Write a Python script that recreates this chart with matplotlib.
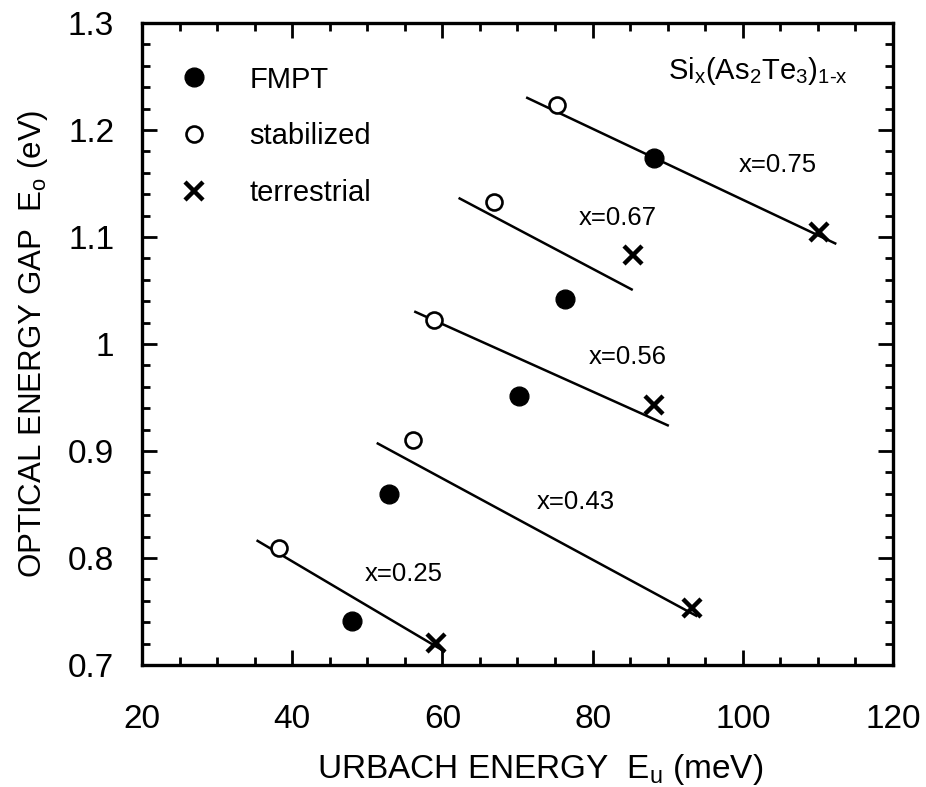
import matplotlib
matplotlib.use('Agg')
import matplotlib.pyplot as plt

plt.rcParams['font.family'] = ['Liberation Sans', 'DejaVu Sans']
plt.rcParams['mathtext.fontset'] = 'custom'
plt.rcParams['mathtext.rm'] = 'Liberation Sans'
plt.rcParams['mathtext.it'] = 'Liberation Sans'

# Urbach energy (meV) vs optical gap (eV) for each preparation
fmpt_eu = [48.0, 52.9, 70.2, 76.3, 88.2]
fmpt_eo = [0.741, 0.860, 0.951, 1.042, 1.174]
stab_eu = [38.2, 56.1, 58.9, 66.9, 75.3]
stab_eo = [0.809, 0.910, 1.022, 1.133, 1.223]
terr_eu = [59.1, 93.2, 88.2, 85.4, 110.1]
terr_eo = [0.721, 0.753, 0.943, 1.083, 1.105]

# fitted lines for each composition: (x0, x1), (y0, y1)
comp_labels = ['x=0.25', 'x=0.43', 'x=0.56', 'x=0.67', 'x=0.75']
fit_eu = [(35.4, 60.2), (51.4, 93.8), (56.4, 90.0), (62.3, 85.2), (71.3, 112.3)]
fit_eo = [(0.816, 0.713), (0.907, 0.746), (1.030, 0.924), (1.136, 1.051), (1.230, 1.094)]
label_eu = [54.8, 77.7, 84.7, 83.4, 104.7]
label_eo = [0.785, 0.852, 0.988, 1.118, 1.167]

fig = plt.figure(figsize=(9.26, 7.87), dpi=100)
ax = fig.add_axes([0.1533, 0.155, 0.8111, 0.8158])

for xs, ys in zip(fit_eu, fit_eo):
    ax.plot(xs, ys, color='black', lw=1.8)

ax.plot(fmpt_eu, fmpt_eo, 'o', color='black', ms=13.5, ls='none', label='FMPT', clip_on=False)
ax.plot(stab_eu, stab_eo, 'o', mfc='white', mec='black', mew=1.9, ms=11.5, ls='none',
        label='stabilized', clip_on=False)
ax.plot(terr_eu, terr_eo, 'x', color='black', mew=3.2, ms=13, ls='none',
        label='terrestrial', clip_on=False)

for lab, xv, yv in zip(comp_labels, label_eu, label_eo):
    ax.text(xv, yv, lab, fontsize=18.5, ha='center', va='center')

ax.text(0.94, 0.925, r'Si$_\mathrm{x}$(As$_\mathrm{2}$Te$_\mathrm{3}$)$_\mathrm{1\text{-}x}$',
        transform=ax.transAxes, fontsize=21, ha='right', va='center')

ax.legend(loc='upper left', bbox_to_anchor=(0.015, 0.97), frameon=False, fontsize=21,
          handlelength=1.2, handletextpad=1.3, labelspacing=0.98, borderpad=0.3)

ax.set_xlim(20, 120)
ax.set_ylim(0.7, 1.3)
ax.set_xticks([20, 40, 60, 80, 100, 120])
ax.set_xticks(range(20, 121, 5), minor=True)
ax.set_yticks([0.7, 0.8, 0.9, 1.0, 1.1, 1.2, 1.3])
ax.set_yticklabels(['0.7', '0.8', '0.9', '1', '1.1', '1.2', '1.3'])
ax.set_yticks([0.7 + 0.02 * i for i in range(31)], minor=True)
ax.tick_params(which='both', direction='in', top=True, right=True, labelsize=24, width=2)
ax.tick_params(axis='x', which='major', length=11, pad=28)
ax.tick_params(axis='y', which='major', length=11, pad=20)
ax.tick_params(which='minor', length=6)
for sp in ax.spines.values():
    sp.set_linewidth(2.4)

ax.set_xlabel(r'URBACH ENERGY  E$_\mathrm{u}$ (meV)', fontsize=24, labelpad=12, x=0.53)
ax.set_ylabel(r'OPTICAL ENERGY GAP  E$_\mathrm{o}$ (eV)', fontsize=22.5, labelpad=13)

fig.savefig('out.png', dpi=100)
